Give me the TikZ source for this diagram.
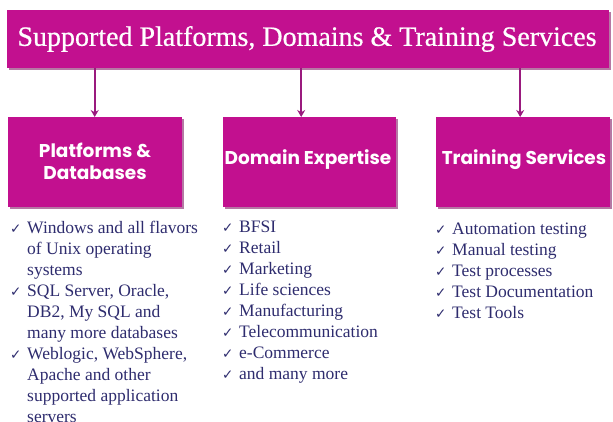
\documentclass[tikz,border=0pt]{standalone}
\usepackage{fontspec}
\setmainfont{Liberation Serif}
\newfontfamily\headfont{Poppins}
\newfontfamily\checkfont{DejaVu Sans}
\usetikzlibrary{arrows.meta,shadows}
\definecolor{boxmag}{HTML}{C2108F}
\definecolor{boxdark}{HTML}{7A0A5A}
\definecolor{arrmag}{HTML}{9A1A7E}
\definecolor{navy}{HTML}{2E2C6E}
\newcommand\ck{\makebox[17pt][l]{\checkfont\fontsize{13.5}{13.5}\selectfont ✓}}
\newcommand\ind{\hspace*{17pt}}
\newcommand\lst[1]{\parbox[t]{220pt}{\raggedright\fontsize{17.5}{21}\selectfont #1}}
\tikzset{
  magbox/.style={fill=boxmag, draw=none, inner sep=0pt,
    drop shadow={shadow xshift=1.5pt, shadow yshift=-2pt, fill=boxdark, opacity=0.55}},
  headtext/.style={text=white, font=\headfont\bfseries\fontsize{18.5}{22}\selectfont, align=center},
  arr/.style={draw=arrmag, line width=2.2pt, -{Stealth[length=7pt,width=8pt]}},
  listtext/.style={text=navy, anchor=base west, inner sep=0pt}
}
\begin{document}
\begin{tikzpicture}[x=1pt,y=-1pt]
\useasboundingbox (0,0) rectangle (613,421);
% title
\node[magbox, minimum width=602pt, minimum height=58pt, anchor=north west] (title) at (7,10) {};
\node[text=white, font=\addfontfeatures{FakeBold=0.6}\fontsize{28}{30}\selectfont, anchor=center] (ttext) at (307,39) {Supported Platforms, Domains \& Training Services};
% boxes
\node[magbox, minimum width=174pt, minimum height=90pt, anchor=north west] (b1) at (8,117) {};
\node[magbox, minimum width=173pt, minimum height=90pt, anchor=north west] (b2) at (223,117) {};
\node[magbox, minimum width=174pt, minimum height=90pt, anchor=north west] (b3) at (436,117) {};
\node[headtext] (h1) at (95,161) {Platforms \&\\Databases};
\node[headtext] (h2) at (308,160) {Domain Expertise};
\node[headtext] (h3) at (524,160) {Training Services};
% arrows
\draw[arr] ([xshift=-0.5pt]title.south -| b1.north) -- ([xshift=-0.5pt]b1.north);
\draw[arr] ([xshift=-8.5pt]title.south -| b2.north) -- ([xshift=-8.5pt]b2.north);
\draw[arr] ([xshift=-3pt]title.south -| b3.north) -- ([xshift=-3pt]b3.north);
% lists
\node[listtext] (l1) at (10,233) {\lst{\ck Windows and all flavors\\
\ind of Unix operating\\
\ind systems\\
\ck SQL Server, Oracle,\\
\ind DB2, My SQL and\\
\ind many more databases\\
\ck Weblogic, WebSphere,\\
\ind Apache and other\\
\ind supported application\\
\ind servers}};
\node[listtext] (l2) at (222,232) {\lst{\ck BFSI\\
\ck Retail\\
\ck Marketing\\
\ck Life sciences\\
\ck Manufacturing\\
\ck Telecommunication\\
\ck e-Commerce\\
\ck and many more}};
\node[listtext] (l3) at (435,234) {\lst{\ck Automation testing\\
\ck Manual testing\\
\ck Test processes\\
\ck Test Documentation\\
\ck Test Tools}};
\end{tikzpicture}
\end{document}
